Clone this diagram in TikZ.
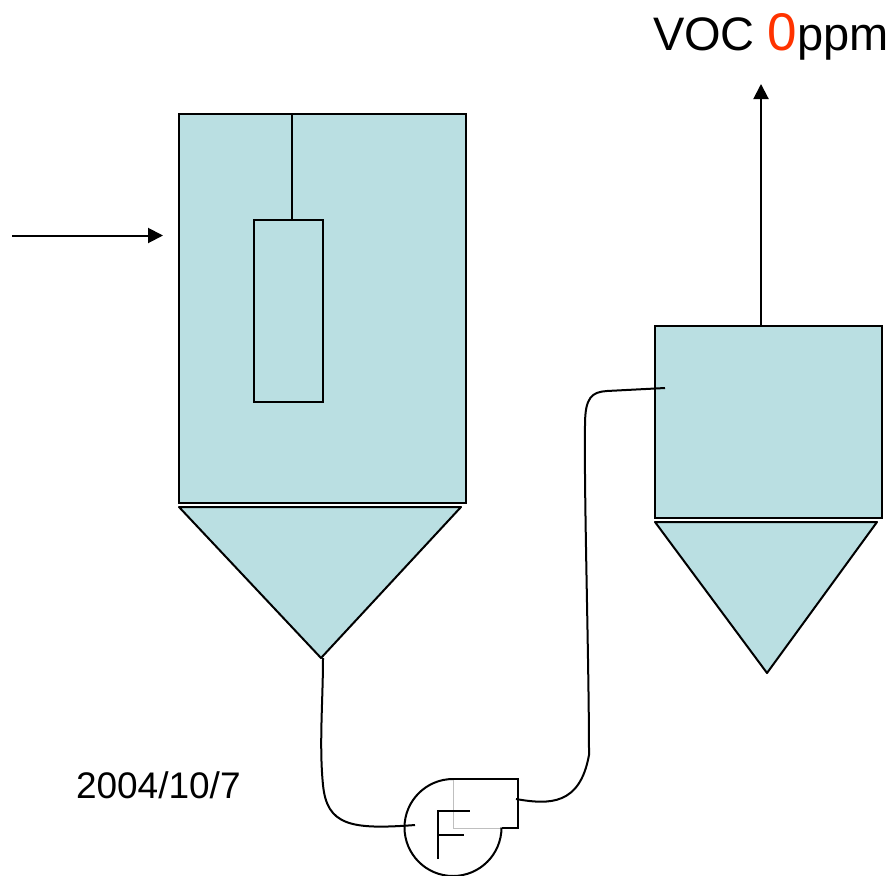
\documentclass[tikz,border=0pt]{standalone}
\usepackage{fontspec}
\setmainfont{Liberation Sans}
\usetikzlibrary{arrows.meta}
\definecolor{tankblue}{HTML}{BADFE2}
\definecolor{vocred}{HTML}{FF3300}
\begin{document}
\begin{tikzpicture}[x=1pt,y=-1pt,line width=2pt,
tank/.style={
% The shape:
rectangle,
draw=black,
fill=tankblue,
anchor=north west,
inner sep=0pt,
outer sep=0pt
},
hopper/.style={
draw=black,
fill=tankblue,
line join=round
},
label/.style={
anchor=base west,
inner sep=0pt
},
flow/.style={
-{Triangle[length=15pt,width=15pt]}
}
]
\useasboundingbox (0,0) rectangle (893,875);
% Vessels:
\node (dryer) [tank,minimum width=287pt,minimum height=389pt] at (179,114) {};
\node (lance) [tank,minimum width=69pt,minimum height=182pt] at (254,219.5) {};
\node (scrubber) [tank,minimum width=227pt,minimum height=192pt] at (655,326) {};
\coordinate (dryertop) at (292,114);
\coordinate (lancetop) at (292,219.5);
\draw (dryertop) -- (lancetop);
\coordinate (cone1l) at (179,507);
\coordinate (cone1r) at (461,507);
\coordinate (cone1b) at (321,658);
\coordinate (cone2l) at (655,522);
\coordinate (cone2r) at (877,522);
\coordinate (cone2b) at (767,673);
\draw[hopper] (cone1l) -- (cone1r) -- (cone1b) -- cycle;
\draw[hopper] (cone2l) -- (cone2r) -- (cone2b) -- cycle;
% Flows in and out:
\coordinate (feed) at (12,235.5);
\coordinate (feedend) at (163,235.5);
\coordinate (stackbase) at (761,326);
\coordinate (stacktop) at (761,84);
\draw[flow] (feed) -- (feedend);
\draw[flow] (stackbase) -- (stacktop);
% Fan:
\coordinate (fantop) at (453,779);
\coordinate (fanlip) at (502,828);
\draw[gray!50,line width=1pt] (fantop) -- (453,828) -- (fanlip);
\draw (fantop) arc[start angle=90,end angle=360,radius=48.5pt];
\coordinate (fanin) at (415,825);
\coordinate (fanout) at (516,799);
\draw (fantop) -- (518,779) -- (518,828) -- (fanlip);
\draw (438,859) -- (438,811) -- (470,811);
\draw (438,835) -- (464,835);
% Pipes:
\coordinate (coneout) at (323,658);
\coordinate (pipein) at (665,388);
\draw (coneout) .. controls (323,700) and (319,745) .. (323,785) .. controls (327,825) and (350,830) .. (fanin);
\draw (fanout) .. controls (550,805) and (580,805) .. (589,755) .. controls (589,660) and (584,500) .. (585,425) .. controls (585,397) and (592,392) .. (607,391) -- (pipein);
% Labels:
\node (voc) [label,font=\fontsize{47pt}{50pt}\selectfont] at (652,50) {VOC \textcolor{vocred}{\fontsize{53pt}{50pt}\selectfont 0}ppm};
\node (date) [label,font=\fontsize{37pt}{40pt}\selectfont] at (75,798) {2004/10/7};
\end{tikzpicture}
\end{document}
